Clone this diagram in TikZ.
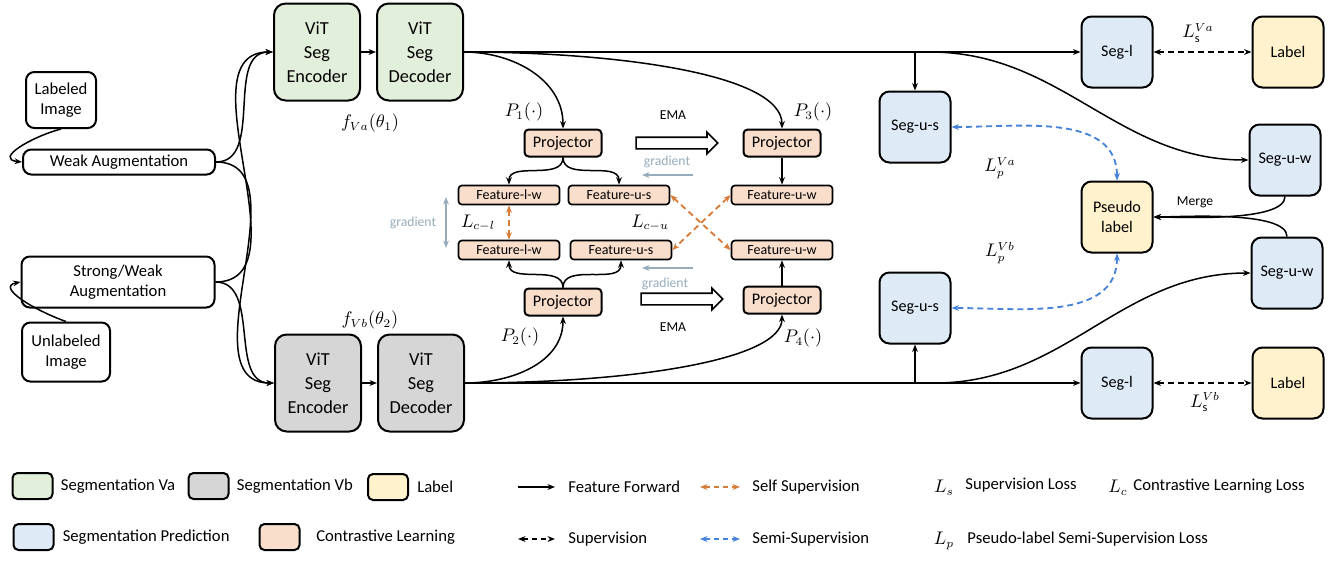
\documentclass[tikz,border=0pt]{standalone}
\usepackage{amsmath}
\usepackage{fontspec}
\setmainfont{Carlito}
\usepackage{tikz}
\usetikzlibrary{arrows.meta,positioning,shapes.arrows}
\definecolor{vagreen}{RGB}{226,239,218}
\definecolor{vbgray}{RGB}{214,214,214}
\definecolor{lblyellow}{RGB}{255,242,204}
\definecolor{predblue}{RGB}{222,235,247}
\definecolor{conorange}{RGB}{250,222,204}
\definecolor{selforange}{RGB}{214,124,56}
\definecolor{semiblue}{RGB}{70,130,215}
\definecolor{gradgray}{RGB}{150,172,188}

\begin{document}
\begin{tikzpicture}[x=0.6pt, y=0.6pt, >={Stealth[length=4.5pt,width=3.5pt]}, line width=0.9pt]
  \tikzstyle{base} = [rectangle, draw, line width=1.2pt, rounded corners=5pt, align=center, inner sep=1pt]
  \tikzstyle{imgbox} = [base, fill=white, font=\fontsize{10}{12}\selectfont]
  \tikzstyle{vabox} = [base, fill=vagreen, rounded corners=7pt, minimum width=51.6pt, minimum height=58.2pt, font=\fontsize{11}{14.4}\selectfont]
  \tikzstyle{vbbox} = [vabox, fill=vbgray]
  \tikzstyle{segbox} = [base, fill=predblue, rounded corners=6pt, minimum width=42.6pt, minimum height=42.6pt, font=\fontsize{9.7}{11.6}\selectfont]
  \tikzstyle{lblbox} = [segbox, fill=lblyellow]
  \tikzstyle{projbox} = [base, fill=conorange, rounded corners=2.5pt, minimum width=46.2pt, minimum height=16.2pt, font=\fontsize{9.7}{11}\selectfont]
  \tikzstyle{featbox} = [base, fill=conorange, rounded corners=2pt, line width=1pt, minimum width=60.6pt, minimum height=11.4pt, inner sep=0pt, font=\fontsize{8.4}{9}\selectfont]
  \tikzstyle{emaarrow} = [single arrow, draw, line width=1pt, fill=white, minimum height=49pt, minimum width=12pt, single arrow head extend=3pt, inner sep=3pt]
  \tikzstyle{legbox} = [base, minimum width=24pt, minimum height=15.6pt, rounded corners=3pt]
  \tikzstyle{legtext} = [font=\fontsize{10}{12}\selectfont, inner sep=1pt]
  \tikzstyle{mathlbl} = [font=\fontsize{10.5}{12}\selectfont, inner sep=0.5pt]
  \tikzstyle{smalltext} = [font=\fontsize{8.2}{10}\selectfont, inner sep=1pt]
  \tikzstyle{gradtext} = [smalltext, text=gradgray]
  \tikzstyle{gradarrow} = [->, draw=gradgray, line width=1pt]
  \tikzstyle{supdash} = [<->, dash pattern=on 3.6pt off 2.4pt, line width=1.1pt]
  \tikzstyle{selfdash} = [supdash, draw=selforange]
  \tikzstyle{semidash} = [supdash, draw=semiblue]

  \useasboundingbox (0,0) rectangle (1337,-560);

  % inputs
  \node[imgbox, minimum width=42pt, minimum height=33.6pt] (limg) at (61,-100) {Labeled\\Image};
  \node[imgbox, minimum width=115.2pt, minimum height=15pt] (weak) at (119,-162) {Weak Augmentation};
  \node[imgbox, minimum width=115.8pt, minimum height=30.6pt] (sw) at (118,-282) {Strong/Weak\\Augmentation};
  \node[imgbox, minimum width=52.8pt, minimum height=35.4pt] (uimg) at (66,-352) {Unlabeled\\Image};

  \draw[->] (limg.south) .. controls +(-30,-8) and +(-28,3) .. (weak.west);
  \draw[->] (uimg.north) .. controls +(-31,11) and +(-25,-5) .. (sw.west);

  % two segmentation networks
  \node[vabox] (encA) at (317,-52) {ViT\\Seg\\Encoder};
  \node[vabox, right=9pt of encA] (decA) {ViT\\Seg\\Decoder};
  \node[vbbox] (encB) at (318,-383) {ViT\\Seg\\Encoder};
  \node[vbbox, right=9pt of encB] (decB) {ViT\\Seg\\Decoder};
  \node[mathlbl] (fa) at (370,-123) {$f_{Va}(\theta_1)$};
  \node[mathlbl] (fb) at (370,-320) {$f_{Vb}(\theta_2)$};

  \draw[->] (weak.east) to[out=0,in=180] (encA.west);
  \draw[->] (weak.east) to[out=0,in=180] (encB.west);
  \draw[->] (sw.east) to[out=0,in=180] (encA.west);
  \draw[->] (sw.east) to[out=0,in=180] (encB.west);
  \draw[->] (encA) -- (decA);
  \draw[->] (encB) -- (decB);

  % contrastive learning
  \node[projbox] (proj1) at (563,-143) {Projector};
  \node[projbox] (proj3) at (782,-143) {Projector};
  \node[projbox] (proj2) at (563,-302) {Projector};
  \node[projbox] (proj4) at (782,-300) {Projector};
  \node[mathlbl] (p1) at (524,-112) {$P_1(\cdot)$};
  \node[mathlbl] (p3) at (813,-112) {$P_3(\cdot)$};
  \node[mathlbl] (p2) at (520,-337) {$P_2(\cdot)$};
  \node[mathlbl] (p4) at (803,-338) {$P_4(\cdot)$};

  \node[emaarrow] (ema1) at (674,-143) {};
  \node[emaarrow] (ema2) at (679,-299) {};
  \node[smalltext] (ematxt1) at (673,-115) {EMA};
  \node[smalltext] (ematxt2) at (673,-327) {EMA};

  \node[featbox] (flwa) at (509,-195) {Feature-l-w};
  \node[featbox] (fusa) at (619,-195) {Feature-u-s};
  \node[featbox] (fuwa) at (782,-195) {Feature-u-w};
  \node[featbox] (flwb) at (509,-250) {Feature-l-w};
  \node[featbox] (fusb) at (621,-250) {Feature-u-s};
  \node[featbox] (fuwb) at (782,-250) {Feature-u-w};
  \node[mathlbl] (lcl) at (478,-223) {$L_{c-l}$};
  \node[mathlbl] (lcu) at (650,-223) {$L_{c-u}$};

  \draw[->] (decA.east) to[out=0,in=90] (proj1.north);
  \draw[->] (decA.east) .. controls +(150,0) and +(0,55) .. (proj3.north);
  \draw[->] (decB.east) to[out=0,in=-90] (proj2.south);
  \draw[->] (decB.east) .. controls +(170,0) and +(0,-45) .. (proj4.south);

  \draw[->] (proj1.south) to[out=-90,in=90] (flwa.north);
  \draw[->] (proj1.south) to[out=-90,in=90] (fusa.north);
  \draw[->] (proj3) -- (fuwa);
  \draw[->] (proj2.north) to[out=90,in=-90] (flwb.south);
  \draw[->] (proj2.north) to[out=90,in=-90] (fusb.south);
  \draw[->] (proj4) -- (fuwb);

  \draw[selfdash] (flwa.south) -- (flwb.north);
  \draw[selfdash] (fusa.east) -- (fuwb.west);
  \draw[selfdash] (fuwa.west) -- (fusb.east);

  % gradient
  \coordinate (g1s) at (693,-175);
  \coordinate (g1e) at (642,-175);
  \coordinate (g2s) at (693,-268);
  \coordinate (g2e) at (642,-268);
  \coordinate (gv1) at (446,-197);
  \coordinate (gv2) at (446,-248);
  \draw[gradarrow] (g1s) -- (g1e);
  \draw[gradarrow] (g2s) -- (g2e);
  \draw[gradarrow, <->] (gv1) -- (gv2);
  \node[gradtext] (gt1) at (667,-162) {gradient};
  \node[gradtext] (gt2) at (665,-284) {gradient};
  \node[gradtext] (gt3) at (413,-223) {gradient};

  % predictions
  \node[segbox] (segla) at (1117,-52) {Seg-l};
  \node[lblbox, right=58.8pt of segla] (laba) {Label};
  \node[segbox] (segusa) at (915,-127) {Seg-u-s};
  \node[segbox] (seguwa) at (1285,-160) {Seg-u-w};
  \node[lblbox] (pseudo) at (1117,-217) {Pseudo\\label};
  \node[segbox] (segusb) at (915,-308) {Seg-u-s};
  \node[segbox] (seguwb) at (1287,-273) {Seg-u-w};
  \node[segbox] (seglb) at (1117,-383) {Seg-l};
  \node[lblbox, right=58.8pt of seglb] (labb) {Label};

  \node[mathlbl] (lsa) at (1198,-33) {$L_{\mathrm{s}}^{Va}$};
  \node[mathlbl] (lpa) at (1000,-168) {$L_p^{Va}$};
  \node[mathlbl] (lpb) at (1000,-253) {$L_p^{Vb}$};
  \node[mathlbl] (lsb) at (1205,-402) {$L_{\mathrm{s}}^{Vb}$};
  \node[smalltext] (merge) at (1195,-202) {Merge};

  \coordinate (splitA) at (930,-52);
  \coordinate (splitB) at (935,-383);
  \draw[->] (decA.east) -- (segla.west);
  \draw[->] (decA.east -| segusa) -- (segusa.north);
  \draw[->] (splitA) to[out=0,in=180] (seguwa.west);
  \draw[->] (decB.east) -- (seglb.west);
  \draw[->] (decB.east -| segusb) -- (segusb.south);
  \draw[->] (splitB) to[out=0,in=180] (seguwb.west);

  \draw[->] (seguwa.south) to[out=-90,in=0,looseness=0.5] (pseudo.east);
  \draw[->] (seguwb.north) to[out=90,in=0,looseness=0.5] (pseudo.east);

  \draw[supdash] (segla) -- (laba);
  \draw[supdash] (seglb) -- (labb);
  \draw[semidash] (segusa.east) to[out=0,in=90] (pseudo.north);
  \draw[semidash] (pseudo.south) to[out=-90,in=0] (segusb.east);

  % legend
  \node[legbox, fill=vagreen] (lgva) at (32.5,-486) {};
  \node[legtext, right=3pt of lgva] (lgvatxt) {Segmentation Va};
  \node[legbox, fill=vbgray] (lgvb) at (208.5,-486) {};
  \node[legtext, right=3pt of lgvb] (lgvbtxt) {Segmentation Vb};
  \node[legbox, fill=lblyellow] (lglbl) at (388,-487) {};
  \node[legtext, right=3.5pt of lglbl] (lglbltxt) {Label};
  \node[legbox, fill=predblue] (lgpred) at (33.5,-537) {};
  \node[legtext, right=3.5pt of lgpred] (lgpredtxt) {Segmentation Prediction};
  \node[legbox, fill=conorange] (lgcon) at (279.5,-537) {};
  \node[legtext, right=8pt of lgcon] (lgcontxt) {Contrastive Learning};

  \coordinate (ffa) at (518,-487);
  \coordinate (ffb) at (555,-487);
  \coordinate (ssa) at (700,-487);
  \coordinate (ssb) at (740,-487);
  \coordinate (spa) at (518,-539);
  \coordinate (spb) at (555,-539);
  \coordinate (sma) at (700,-539);
  \coordinate (smb) at (740,-539);
  \draw[->] (ffa) -- (ffb);
  \draw[selfdash, dash pattern=on 3pt off 2.4pt] (ssa) -- (ssb);
  \draw[supdash, dash pattern=on 3pt off 2.4pt] (spa) -- (spb);
  \draw[semidash, dash pattern=on 3pt off 2.4pt] (sma) -- (smb);
  \node[legtext, anchor=west] (fftxt) at (566,-487) {Feature Forward};
  \node[legtext, anchor=west] (sstxt) at (750,-487) {Self Supervision};
  \node[legtext, anchor=west] (sptxt) at (566,-539) {Supervision};
  \node[legtext, anchor=west] (smtxt) at (750,-539) {Semi-Supervision};

  \node[mathlbl] (lsym) at (944,-488) {$L_s$};
  \node[legtext, anchor=west] (lstxt) at (963,-485) {Supervision Loss};
  \node[mathlbl] (lcsym) at (1118,-488) {$L_c$};
  \node[legtext, anchor=west] (lctxt) at (1131,-486) {Contrastive Learning Loss};
  \node[mathlbl] (lpsym) at (944,-541) {$L_p$};
  \node[legtext, anchor=west] (lptxt) at (965,-539) {Pseudo-label Semi-Supervision Loss};
\end{tikzpicture}
\end{document}
